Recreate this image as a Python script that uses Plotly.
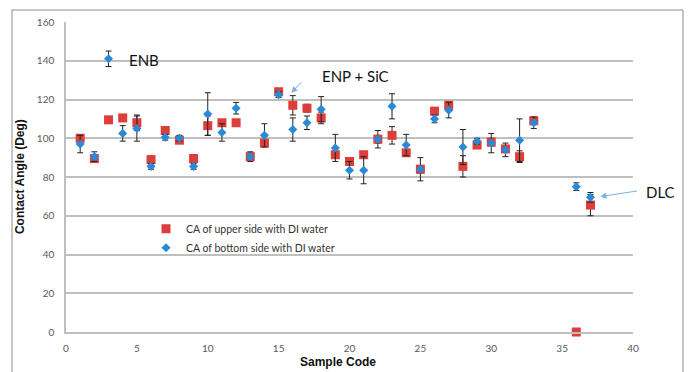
import plotly.graph_objects as go

# Sample codes and contact angles (degrees)
sample_code = list(range(1, 34)) + [36, 37]

ca_upper = [100, 89.5, 109.5, 110.5, 108, 89, 104, 99, 89.5, 106.5, 108, 108, 90.5, 97.5,
            124, 117, 115.5, 110.5, 91.5, 88, 91.5, 99.5, 101.5, 92.5, 84, 114, 117, 85.5,
            96.5, 98, 94.5, 90.5, 109, 0, 65.5]
ca_upper_err = [1.5, 2, 1.5, 1.5, 4, 1.5, 1.5, 1.5, 2, 5, 1.5, 1.5, 1.5, 1.5,
                1.5, 5, 2, 3, 1.5, 2, 1.5, 2, 4.5, 1.5, 2, 1.5, 2, 5.5,
                1.5, 2, 1.5, 3, 1.5, 0, 5.5]

ca_bottom = [97, 90.5, 141, 102.5, 105, 85.5, 100.5, 100, 85.5, 112.5, 103, 115.5, 90.5, 101.5,
             122.5, 104.5, 108, 115, 95, 83.5, 83.5, 99.5, 116.5, 96.5, 84, 110, 114.5, 95.5,
             98.5, 97.5, 94, 99, 108, 75, 69.5]
ca_bottom_err = [4.5, 2.5, 4, 4, 6.5, 1.5, 1.5, 1.5, 1.5, 11, 4.5, 3, 2.5, 6,
                 1.5, 6, 3.5, 6.5, 7, 4.5, 7, 4.5, 6.5, 5.5, 6, 2, 4, 9,
                 1.5, 5, 3.5, 11, 3, 2, 2.5]

y_ticks = [0, 20, 40, 60, 80, 100, 120, 140, 160]
x_ticks = [0, 5, 10, 15, 20, 25, 30, 35, 40]

RED = "#DD3E3A"
BLUE = "#2B8AD5"
ARROW = "#7AAEE0"
TICK_FONT = dict(family="Lato", size=10, color="#595959")

fig = go.Figure()

fig.add_trace(go.Scatter(
    x=sample_code, y=ca_upper, mode="markers",
    name="CA of upper side with DI water",
    marker=dict(symbol="square", size=9, color=RED),
    error_y=dict(type="data", array=ca_upper_err, visible=True,
                 color="#222222", thickness=1, width=3),
    cliponaxis=False,
))

fig.add_trace(go.Scatter(
    x=sample_code, y=ca_bottom, mode="markers",
    name="CA of bottom side with DI water",
    marker=dict(symbol="diamond", size=7, color=BLUE),
    error_y=dict(type="data", array=ca_bottom_err, visible=True,
                 color="#222222", thickness=1, width=3),
    cliponaxis=False,
))

label_font = dict(family="Lato", size=15, color="#111111")
annotations = [
    dict(x=4.3, y=140.2, text="ENB", showarrow=False, xanchor="left", yanchor="middle",
         font=label_font),
    dict(x=17.9, y=132, text="ENP + SiC", showarrow=False, xanchor="left", yanchor="middle",
         font=label_font),
    dict(x=(644 - 66) / 567, xref="paper", y=72.5, yref="y", text="DLC", showarrow=False,
         xanchor="left", yanchor="middle", font=label_font),
    # arrows pointing at the labelled samples
    dict(x=15.9, y=123.5, ax=16.7, ay=129.7, axref="x", ayref="y", xref="x", yref="y",
         text="", showarrow=True, arrowhead=2, arrowsize=1.2, arrowwidth=1, arrowcolor=ARROW),
    dict(x=37.7, y=69.9, ax=40.4, ay=72.9, axref="x", ayref="y", xref="x", yref="y",
         text="", showarrow=True, arrowhead=2, arrowsize=1.2, arrowwidth=1, arrowcolor=ARROW),
    # axis titles
    dict(x=-0.081, y=0.5, xref="paper", yref="paper", text="<b>Contact Angle (Deg)</b>",
         textangle=-90, showarrow=False, xanchor="center", yanchor="middle",
         font=dict(family="Liberation Sans", size=12, color="#111111")),
    dict(x=0.48, y=-0.068, xref="paper", yref="paper", text="<b>Sample Code</b>",
         showarrow=False, xanchor="center", yanchor="top",
         font=dict(family="Liberation Sans", size=12, color="#111111")),
]

fig.update_layout(
    width=691, height=372,
    margin=dict(l=66, r=58, t=22, b=40),
    paper_bgcolor="white", plot_bgcolor="white",
    showlegend=True,
    legend=dict(x=(146 - 66) / 567, y=0.38, xanchor="left", yanchor="top",
                bgcolor="rgba(0,0,0,0)", font=dict(family="Lato", size=10.5, color="#333333"),
                itemwidth=30, tracegroupgap=0),
    annotations=annotations,
    shapes=[dict(type="rect", xref="paper", yref="paper",
                 x0=(12 - 66) / 567, x1=(683 - 66) / 567,
                 y0=-0.3, y1=(332 - 10) / 310,
                 line=dict(color="#8C8C8C", width=1), fillcolor="rgba(0,0,0,0)", layer="below")],
)

fig.update_xaxes(range=[0, 40], tickvals=x_ticks, showgrid=False, zeroline=False,
                 showline=True, linecolor="#BFBFBF", linewidth=1.5,
                 ticks="", tickfont=TICK_FONT, ticklabelstandoff=6)
fig.update_yaxes(range=[0, 160], tickvals=y_ticks, showgrid=True, gridcolor="#BFBFBF",
                 gridwidth=1.5, zeroline=False, showline=True, linecolor="#BFBFBF",
                 linewidth=1.5, ticks="", tickfont=TICK_FONT, ticklabelstandoff=8)

fig.write_html("out.html")
